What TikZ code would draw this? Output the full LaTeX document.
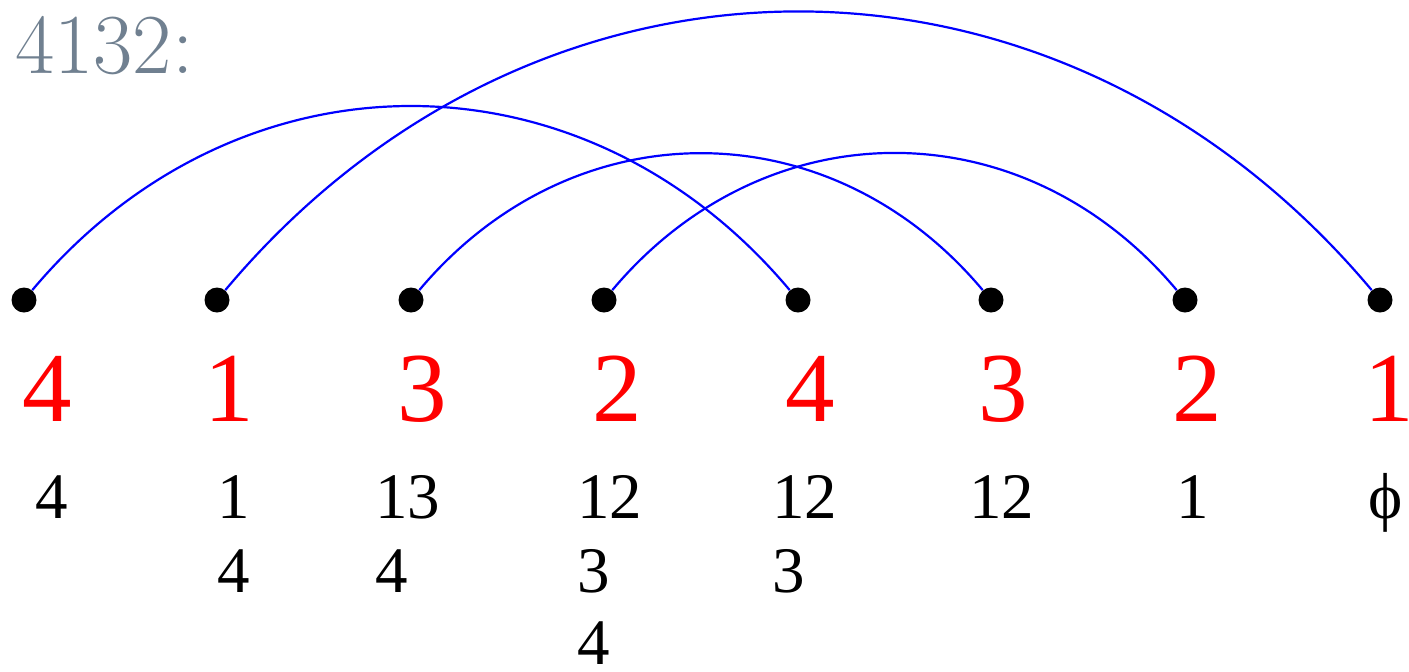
\documentclass[tikz,border=0pt]{standalone}
\usepackage{fontspec}
\newfontfamily\tnr{Liberation Serif}
\definecolor{titlegray}{RGB}{112,128,144}
\tikzset{
  dotnode/.style={circle,fill=black,inner sep=0pt,minimum size=12.5pt},
  arcline/.style={blue,line width=1.1pt,out=50,in=130,looseness=1.085},
  bignum/.style={text=red,font=\tnr\fontsize{49.5}{55}\selectfont,inner sep=0pt,anchor=base},
  smallnum/.style={font=\tnr\fontsize{32.5}{36}\selectfont,inner sep=0pt,anchor=base west},
  titletext/.style={text=titlegray,font=\fontsize{42.7}{50}\selectfont,inner sep=0pt,anchor=base west}
}
\begin{document}
\begin{tikzpicture}[x=0.5pt,y=-0.5pt]
\useasboundingbox (0,0) rectangle (1409,671);
\node[titletext] (title) at (15,73) {4132:};
% dots
\foreach \i/\x in {0/24,1/217,2/411,3/604,4/798,5/991,6/1185,7/1380}
  \node[dotnode] (d\i) at (\x,300) {};
% arcs
\draw[arcline] (d0) to (d4);
\draw[arcline] (d1) to (d7);
\draw[arcline] (d2) to (d5);
\draw[arcline] (d3) to (d6);
% red numbers
\node[bignum] (r0) at (47,421) {4};
\node[bignum] (r1) at (229,421) {1};
\node[bignum] (r2) at (422,421) {3};
\node[bignum] (r3) at (617,421) {2};
\node[bignum] (r4) at (810,421) {4};
\node[bignum] (r5) at (1003,421) {3};
\node[bignum] (r6) at (1197,421) {2};
\node[bignum] (r7) at (1389,421) {\makebox[15pt][c]{1}};
% black lists
\node[smallnum] (c0a) at (35,518) {4};
\node[smallnum] (c1a) at (217,518) {1};
\node[smallnum] (c1b) at (217,592) {4};
\node[smallnum] (c2a) at (375,518) {13};
\node[smallnum] (c2b) at (375,592) {4};
\node[smallnum] (c3a) at (577,518) {12};
\node[smallnum] (c3b) at (577,592) {3};
\node[smallnum] (c3c) at (577,664) {4};
\node[smallnum] (c4a) at (772,518) {12};
\node[smallnum] (c4b) at (772,592) {3};
\node[smallnum] (c5a) at (969,518) {12};
\node[smallnum] (c6a) at (1176,518) {1};
\node[smallnum,anchor=base] (c7a) at (1386,518) {ϕ};
\end{tikzpicture}
\end{document}
